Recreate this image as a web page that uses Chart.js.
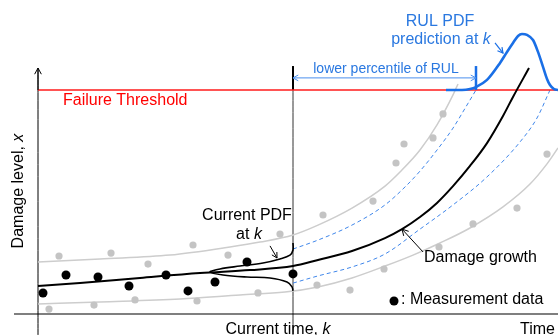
<!DOCTYPE html>
<html><head><meta charset="utf-8">
<script src="https://cdn.jsdelivr.net/npm/chart.js@4"></script>
<style>html,body{margin:0;padding:0;background:#fff;overflow:hidden}canvas{display:block}</style>
</head><body>
<canvas id="c" width="558" height="335"></canvas>
<script>
// ---- data (time units: current time k = 10; damage units: failure threshold = 1) ----
const currentTimeK = 10;
const failureThreshold = 1.0;

const measuredTime   = [0.196, 1.098, 2.353, 3.569, 5.020, 5.882, 6.941, 8.196, 10.0];
const measuredDamage = [0.094, 0.174, 0.165, 0.125, 0.174, 0.103, 0.143, 0.232, 0.179];

const otherTime   = [0.431, 0.824, 2.196, 2.863, 3.804, 4.314, 6.078, 6.235, 7.451, 8.627, 9.490, 10.941, 11.176, 12.235, 13.137, 13.569, 14.039, 14.353, 15.490, 15.882, 15.725, 17.059, 18.784, 19.961];
const otherDamage = [0.022, 0.259, 0.040, 0.272, 0.063, 0.223, 0.308, 0.058, 0.263, 0.094, 0.357, 0.129, 0.442, 0.107, 0.504, 0.201, 0.674, 0.759, 0.786, 0.893, 0.299, 0.402, 0.473, 0.714];

const growthTime   = [0, 1.647, 4.0, 6.353, 8.314, 10, 10.980, 12.314, 13.608, 14.275, 14.980, 15.647, 16.275, 16.941, 17.608, 18.235, 18.627, 19.255];
const growthDamage = [0.125, 0.138, 0.161, 0.183, 0.196, 0.214, 0.241, 0.281, 0.339, 0.379, 0.433, 0.496, 0.571, 0.661, 0.763, 0.884, 0.969, 1.098];

const upperBandTime   = [0, 2.431, 5.176, 7.529, 8.706, 10, 10.980, 12.314, 13.608, 14.196, 14.980, 15.647, 16.275, 16.471];
const upperBandDamage = [0.232, 0.246, 0.263, 0.299, 0.321, 0.353, 0.397, 0.473, 0.571, 0.634, 0.732, 0.844, 0.978, 1.027];

const lowerBandTime   = [0, 2.431, 5.569, 7.922, 9.686, 10.980, 12.314, 13.608, 14.706, 15.765, 16.941, 18.235, 19.294, 19.961, 20.392];
const lowerBandDamage = [0.045, 0.054, 0.067, 0.085, 0.098, 0.121, 0.161, 0.214, 0.263, 0.317, 0.384, 0.478, 0.580, 0.670, 0.741];

const upperCITime   = [10, 10.980, 12.314, 13.608, 14.392, 14.980, 15.647, 16.275, 16.824, 17.176];
const upperCIDamage = [0.290, 0.330, 0.397, 0.487, 0.567, 0.638, 0.732, 0.830, 0.933, 1.0];

const lowerCITime   = [10, 10.980, 12.314, 13.608, 14.980, 16.275, 17.608, 18.902, 19.569, 20.078];
const lowerCIDamage = [0.138, 0.170, 0.210, 0.268, 0.379, 0.487, 0.612, 0.768, 0.875, 1.0];

const rulPdfTime   = [16.0, 16.627, 16.941, 17.176, 17.608, 18.118, 18.392, 18.627, 18.824, 18.980, 19.176, 19.412, 19.608, 19.804, 19.961, 20.078, 20.235, 20.392];
const rulPdfDamage = [1.0, 1.0, 1.004, 1.013, 1.045, 1.121, 1.170, 1.210, 1.241, 1.250, 1.246, 1.223, 1.170, 1.103, 1.049, 1.022, 1.004, 1.0];

const currentPdfTime   = [10, 10, 9.882, 9.490, 8.824, 7.922, 7.137, 6.745, 7.255, 8.196, 9.098, 9.765, 9.961, 10];
const currentPdfDamage = [0.317, 0.286, 0.263, 0.246, 0.228, 0.214, 0.201, 0.1875, 0.174, 0.165, 0.161, 0.143, 0.121, 0.103];

const rulLowerPercentileTime = 17.176;

// ---- helpers ----
const zip = (xs, ys) => xs.map((x, i) => ({x, y: ys[i]}));
const FONT = '"Liberation Sans", Arial, sans-serif';
const BLUE = '#1a6fe6';
const TEXTBLUE = '#2a78e0';

const lineDS = (data, color, width, extra) => Object.assign({
  data, showLine: true, borderColor: color, backgroundColor: color,
  borderWidth: width, pointRadius: 0, fill: false, cubicInterpolationMode: 'monotone'
}, extra || {});

// ---- annotations (text / arrows) in data coordinates ----
const labels = [
  {parts: [['Failure Threshold', '']], t: 0.98, d: 0.935, align: 'left', color: '#ff0000'},
  {parts: [['Damage level, ', ''], ['x', 'italic ']], t: -0.745, d: 0.549, align: 'center', color: '#000', rotate: true},
  {parts: [['Current time, ', ''], ['k', 'italic ']], t: 9.412, d: -0.089, align: 'center', color: '#000'},
  {parts: [['Time', '']], t: 18.902, d: -0.089, align: 'left', color: '#000'},
  {parts: [['lower percentile of RUL', '']], t: 13.647, d: 1.076, align: 'center', color: TEXTBLUE, size: 14},
  {parts: [['RUL PDF', '']], t: 15.765, d: 1.286, align: 'center', color: TEXTBLUE},
  {parts: [['prediction at ', ''], ['k', 'italic ']], t: 15.804, d: 1.205, align: 'center', color: TEXTBLUE},
  {parts: [['Current PDF', '']], t: 8.196, d: 0.420, align: 'center', color: '#000'},
  {parts: [['at ', ''], ['k', 'italic ']], t: 8.275, d: 0.335, align: 'center', color: '#000'},
  {parts: [['Damage growth', '']], t: 15.137, d: 0.232, align: 'left', color: '#000'},
  {parts: [[': Measurement data', '']], t: 14.235, d: 0.045, align: 'left', color: '#000'}
];
const arrows = [
  {from: [9.098, 0.304], to: [9.373, 0.250], color: '#000', width: 1, head: 6},
  {from: [15.098, 0.277], to: [14.275, 0.379], color: '#000', width: 1, head: 7},
  {from: [17.922, 1.210], to: [18.235, 1.165], color: BLUE, width: 1.2, head: 6},
  {from: [13.0, 1.054], to: [rulLowerPercentileTime, 1.054], color: '#4a90ee', width: 1, head: 6},
  {from: [13.0, 1.054], to: [currentTimeK, 1.054], color: '#4a90ee', width: 1, head: 6},
  {from: [0, 1.0], to: [0, 1.098], color: '#000', width: 1, head: 7}
];

const annotPlugin = {
  id: 'annot',
  afterDatasetsDraw(chart) {
    const ctx = chart.ctx, xs = chart.scales.x, ys = chart.scales.y;
    const X = v => xs.getPixelForValue(v), Y = v => ys.getPixelForValue(v);
    ctx.save();
    arrows.forEach(a => {
      const x1 = X(a.from[0]), y1 = Y(a.from[1]), x2 = X(a.to[0]), y2 = Y(a.to[1]);
      ctx.strokeStyle = a.color; ctx.lineWidth = a.width;
      ctx.beginPath(); ctx.moveTo(x1, y1); ctx.lineTo(x2, y2); ctx.stroke();
      const ang = Math.atan2(y2 - y1, x2 - x1), h = a.head, sp = 0.5;
      ctx.beginPath();
      ctx.moveTo(x2 - h * Math.cos(ang - sp), y2 - h * Math.sin(ang - sp));
      ctx.lineTo(x2, y2);
      ctx.lineTo(x2 - h * Math.cos(ang + sp), y2 - h * Math.sin(ang + sp));
      ctx.stroke();
    });
    labels.forEach(l => {
      const size = l.size || 16;
      const fonts = l.parts.map(p => p[1] + size + 'px ' + FONT);
      const widths = l.parts.map((p, i) => { ctx.font = fonts[i]; return ctx.measureText(p[0]).width; });
      const total = widths.reduce((a, b) => a + b, 0);
      const px = X(l.t), py = Y(l.d);
      ctx.save();
      ctx.translate(px, py);
      if (l.rotate) ctx.rotate(-Math.PI / 2);
      let x0 = l.align === 'center' ? -total / 2 : 0;
      ctx.fillStyle = l.color;
      ctx.textBaseline = l.rotate ? 'middle' : 'alphabetic';
      ctx.textAlign = 'left';
      l.parts.forEach((p, i) => { ctx.font = fonts[i]; ctx.fillText(p[0], x0, 0); x0 += widths[i]; });
      ctx.restore();
    });
    ctx.restore();
  }
};

const datasets = [
  {data: zip(measuredTime, measuredDamage), pointRadius: 4.5, pointBackgroundColor: '#000', pointBorderWidth: 0, showLine: false, order: 1},
  {data: [{x: 13.961, y: 0.058}], pointRadius: 4.5, pointBackgroundColor: '#000', pointBorderWidth: 0, showLine: false, order: 1},
  {data: zip(otherTime, otherDamage), pointRadius: 3.6, pointBackgroundColor: '#c4c4c4', pointBorderWidth: 0, showLine: false, order: 6},
  lineDS(zip(growthTime, growthDamage), '#000', 2, {order: 2}),
  lineDS(zip(upperBandTime, upperBandDamage), '#cdcdcd', 1.5, {order: 7}),
  lineDS(zip(lowerBandTime, lowerBandDamage), '#cdcdcd', 1.5, {order: 7}),
  lineDS(zip(upperCITime, upperCIDamage), '#3f86ea', 1, {order: 5, borderDash: [4, 3]}),
  lineDS(zip(lowerCITime, lowerCIDamage), '#3f86ea', 1, {order: 5, borderDash: [4, 3]}),
  lineDS(zip(currentPdfTime, currentPdfDamage), '#000', 1.6, {order: 2, cubicInterpolationMode: 'default', tension: 0.35}),
  lineDS([{x: 0, y: failureThreshold}, {x: 20.392, y: failureThreshold}], '#ff1a1a', 1.6, {order: 4}),
  lineDS(zip(rulPdfTime, rulPdfDamage), BLUE, 2.6, {order: 3}),
  lineDS([{x: 0, y: -0.094}, {x: 0, y: 1.098}], '#000', 1, {order: 8}),
  lineDS([{x: -0.941, y: 0}, {x: 20.392, y: 0}], '#000', 1.2, {order: 8}),
  lineDS([{x: currentTimeK, y: -0.094}, {x: currentTimeK, y: 1.0}], '#333', 1, {order: 8}),
  lineDS([{x: currentTimeK, y: 1.0}, {x: currentTimeK, y: 1.107}], '#000', 2, {order: 8}),
  lineDS([{x: rulLowerPercentileTime, y: 1.0}, {x: rulLowerPercentileTime, y: 1.107}], BLUE, 2.5, {order: 3})
];

new Chart(document.getElementById('c'), {
  type: 'scatter',
  data: {datasets},
  options: {
    responsive: false, animation: false, devicePixelRatio: 1,
    layout: {padding: 0, autoPadding: false},
    plugins: {legend: {display: false}, tooltip: {enabled: false}},
    scales: {
      x: {type: 'linear', display: false, min: -1.4902, max: 20.392},
      y: {type: 'linear', display: false, min: -0.09375, max: 1.40179}
    }
  },
  plugins: [annotPlugin]
});
</script>
</body></html>
